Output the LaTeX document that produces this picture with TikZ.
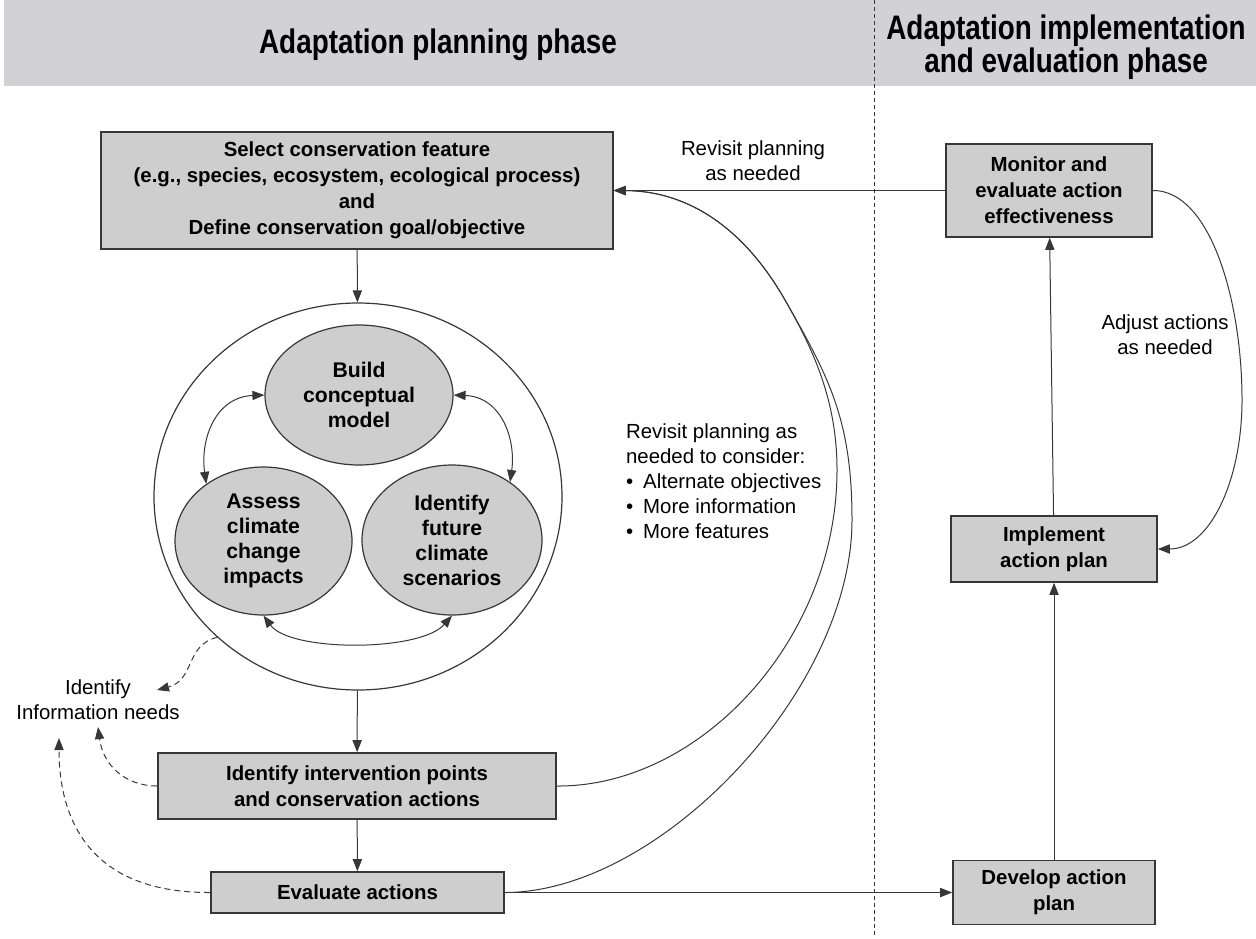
\documentclass[tikz,border=0pt]{standalone}
\usepackage{fontspec}
\setmainfont{Liberation Sans}
\newfontfamily\headfont[FakeStretch=0.82]{Liberation Sans}
\usetikzlibrary{arrows.meta,shapes.geometric}
\definecolor{boxgrey}{RGB}{206,206,206}
\definecolor{bandgrey}{RGB}{210,210,212}
\definecolor{linegrey}{RGB}{55,55,55}
\tikzset{
  stepbox/.style={draw=linegrey, fill=boxgrey, line width=0.8pt, inner sep=0pt, align=center,
    font=\bfseries\fontsize{10.2}{13}\selectfont},
  bubble/.style={ellipse, draw=linegrey, fill=boxgrey, line width=0.6pt, inner sep=0pt, align=center,
    font=\bfseries\fontsize{10.6}{12.5}\selectfont},
  note/.style={align=center, font=\fontsize{10.2}{12.5}\selectfont},
  headtext/.style={align=center, font=\headfont\bfseries\fontsize{17}{16.5}\selectfont},
  link/.style={draw=linegrey, line width=0.5pt, -{Triangle[length=6pt,width=4.6pt]}},
  twoway/.style={link, {Triangle[length=6pt,width=4.6pt]}-{Triangle[length=6pt,width=4.6pt]}},
  infolink/.style={link, dash pattern=on 3pt off 2pt},
}
\newcommand{\bul}{\textbullet\hspace{5pt}}
\begin{document}
\begin{tikzpicture}[x=0.5pt,y=-0.5pt]
  \useasboundingbox (0,0) rectangle (1256,938);
  % header band
  \fill[bandgrey] (4,0) rectangle (1256,86);
  \node[headtext] (planhead) at (438,45) {Adaptation planning phase};
  \node[headtext] (implhead) at (1066,47) {Adaptation implementation\\and evaluation phase};
  \draw[linegrey, line width=0.5pt, dash pattern=on 2pt off 1.5pt] (874,0) -- (874,938);

  % planning phase
  \node[stepbox, minimum width=256pt, minimum height=58.5pt] (select) at (357,190.5)
    {Select conservation feature\\(e.g., species, ecosystem, ecological process)\\and\\Define conservation goal/objective};
  \node[ellipse, draw=linegrey, line width=0.6pt, minimum width=204pt, minimum height=193.5pt] (loop) at (358,496.5) {};
  \node[bubble, minimum width=94pt, minimum height=70pt] (build) at (359,395) {Build\\conceptual\\model};
  \node[bubble, minimum width=88.5pt, minimum height=74pt] (assess) at (263.5,541) {Assess\\climate\\change\\impacts};
  \node[bubble, minimum width=90pt, minimum height=75pt] (future) at (452,540) {Identify\\future\\climate\\scenarios};
  \node[stepbox, minimum width=199pt, minimum height=33pt] (interv) at (357,786)
    {Identify intervention points\\and conservation actions};
  \node[stepbox, minimum width=146.5pt, minimum height=20.5pt] (eval) at (357.5,892.5) {Evaluate actions};

  % implementation phase
  \node[stepbox, minimum width=103pt, minimum height=46.5pt] (monitor) at (1049,190.5)
    {Monitor and\\evaluate action\\effectiveness};
  \node[stepbox, minimum width=103pt, minimum height=33pt] (implement) at (1054,549) {Implement\\action plan};
  \node[stepbox, minimum width=101pt, minimum height=32pt] (develop) at (1054,892.5) {Develop action\\plan};

  % labels
  \node[note] (revisit) at (753,161) {Revisit planning\\as needed};
  \node[note] (adjust) at (1165,335) {Adjust actions\\as needed};
  \node[note, align=left, anchor=north west] (reconsider) at (619,417)
    {Revisit planning as\\needed to consider:\\\bul Alternate objectives\\\bul More information\\\bul More features};
  \node[note] (info) at (98,700) {Identify\\Information needs};
  \coordinate (infotip) at (157,690);
  \coordinate (evaltip) at (59,738);

  \foreach \a/\b in {select/loop,loop/interv,interv/eval,develop/implement,implement/monitor}
    \draw[link] (\a) -- (\b);
  \draw[link] (eval.east) -- (develop.west);
  \draw[link] (monitor.west) -- (select.east);

  \draw[twoway] (build.west) .. controls (215,397) and (200,440) .. (assess.135);
  \draw[twoway] (build.east) .. controls (502,397) and (516,440) .. (future.45);
  \draw[twoway] (assess.south) .. controls (290,652) and (420,652) .. (future.south);

  % loops back to the top
  \draw[link] (interv.east) .. controls (700,787) and (837,640) .. (837,470)
    .. controls (837,400) and (813,349) .. (785,300)
    .. controls (745,230) and (690,191) .. (select.east);
  \draw[link] (eval.east) .. controls (660,892.5) and (852,690) .. (852,520)
    .. controls (852,420) and (829,377) .. (785,300)
    .. controls (745,230) and (690,191) .. (select.east);
  \draw[link] (monitor.east) .. controls (1210,190) and (1242,300) .. (1242,400)
    .. controls (1242,480) and (1210,549) .. (implement.east);

  % information needs
  \draw[infolink] (loop.225) .. controls (185,645) and (195,680) .. (infotip);
  \draw[infolink] (interv.west) .. controls (125,786) and (103,765) .. (info.south);
  \draw[infolink] (eval.west) .. controls (90,893) and (59,820) .. (evaltip);
\end{tikzpicture}
\end{document}
